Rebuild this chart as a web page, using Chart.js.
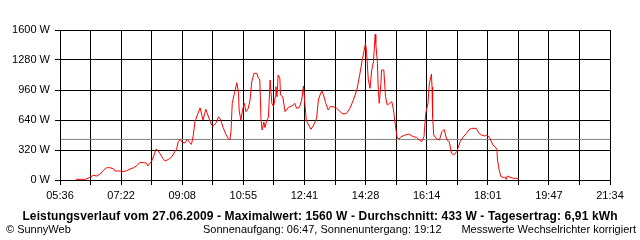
<!DOCTYPE html>
<html>
<head>
<meta charset="utf-8">
<script src="https://cdn.jsdelivr.net/npm/chart.js@4"></script>
<style>
  body { margin: 0; background: #fff; }
  #wrap { position: relative; width: 640px; height: 240px; font-family: "Liberation Sans", Arial, sans-serif; color: #000; }
  #chart { position: absolute; left: 0; top: 0; }
  .txt { position: absolute; white-space: nowrap; font-size: 11px; line-height: 12px; }
  #title { left: 0; width: 640px; text-align: center; top: 209px; font-weight: bold; font-size: 12px; line-height: 14px; letter-spacing: 0.12px; }
  #copy { left: 6px; top: 223px; }
  #sun { left: 203px; top: 223px; }
  #note { right: 4px; top: 223px; }
</style>
</head>
<body>
<div id="wrap">
  <canvas id="chart" width="640" height="240"></canvas>
  <div class="txt" id="title">Leistungsverlauf vom 27.06.2009 - Maximalwert: 1560 W - Durchschnitt: 433 W - Tagesertrag: 6,91 kWh</div>
  <div class="txt" id="copy">© SunnyWeb</div>
  <div class="txt" id="sun">Sonnenaufgang: 06:47, Sonnenuntergang: 19:12</div>
  <div class="txt" id="note">Messwerte Wechselrichter korrigiert</div>
</div>
<script>
// Leistung (W) ueber Uhrzeit
const times = [
  '06:04','06:13','06:20','06:28','06:34','06:40','06:46','06:51','06:57','07:03',
  '07:09','07:12','07:21','07:26','07:32','07:38','07:44','07:50','07:55','08:02',
  '08:07','08:09','08:16','08:20','08:23','08:26','08:30','08:35','08:39','08:45',
  '08:51','08:56','08:59','09:02','09:05','09:10','09:14','09:18','09:22','09:25',
  '09:28','09:31','09:35','09:40','09:45','09:50','09:56','10:00','10:03','10:08',
  '10:12','10:16','10:20','10:25','10:29','10:32','10:34','10:36','10:40','10:44',
  '10:47','10:48','10:51','10:54','10:57','11:00','11:04','11:07','11:10','11:14',
  '11:19','11:21','11:24','11:26','11:28','11:31','11:33','11:36','11:39','11:42',
  '11:45','11:48','11:51','11:52','11:54','11:56','11:59','12:00','12:04','12:08',
  '12:14','12:20','12:25','12:28','12:33','12:37','12:40','12:42','12:45','12:49',
  '12:53','12:57','13:03','13:06','13:09','13:12','13:15','13:19','13:23','13:27',
  '13:32','13:38','13:44','13:49','13:55','14:01','14:07','14:13','14:18','14:23',
  '14:27','14:28','14:30','14:33','14:36','14:39','14:42','14:45','14:46','14:49',
  '14:50','14:52','14:55','14:56','15:00','15:03','15:06','15:10','15:14','15:17',
  '15:20','15:23','15:26','15:30','15:37','15:44','15:51','15:57','16:02','16:06',
  '16:10','16:13','16:17','16:19','16:22','16:23','16:24','16:25','16:27','16:31',
  '16:37','16:41','16:45','16:50','16:54','16:58','17:02','17:07','17:13','17:18',
  '17:24','17:29','17:33','17:41','17:45','17:50','17:56','18:00','18:05','18:10',
  '18:14','18:17','18:18','18:21','18:24','18:28','18:31','18:33','18:35','18:40',
  '18:46','18:52','18:55'
];
const watts = [
  7, 7, 7, 28, 50, 43, 64, 100, 131, 131,
  121, 96, 96, 89, 100, 117, 131, 153, 188, 185,
  178, 149, 206, 267, 327, 320, 284, 231, 203, 220,
  249, 302, 327, 409, 434, 398, 398, 434, 398, 380,
  470, 620, 690, 770, 640, 754, 651, 587, 576, 612,
  675, 640, 562, 487, 441, 427, 533, 818, 931, 1038,
  924, 747, 640, 747, 818, 729, 765, 853, 1049, 1138,
  1138, 1095, 1067, 658, 533, 620, 560, 630, 670, 1067,
  818, 782, 889, 995, 889, 1120, 1085, 907, 889, 729,
  775, 789, 818, 765, 775, 853, 1003, 853, 640, 587,
  540, 576, 658, 853, 907, 953, 907, 818, 747, 782,
  782, 765, 729, 704, 711, 765, 853, 960, 1120, 1298,
  1422, 1458, 1369, 1067, 978, 1173, 1262, 1554, 1458, 1244,
  1013, 818, 1031, 1173, 1173, 889, 800, 818, 835, 747,
  587, 462, 434, 462, 480, 491, 462, 455, 427, 409,
  462, 711, 818, 1013, 1102, 1130, 990, 675, 480, 444,
  427, 515, 540, 427, 409, 284, 267, 302, 409, 455,
  498, 540, 551, 551, 505, 480, 469, 480, 444, 373,
  355, 327, 213, 107, 36, 28, 28, 7, 43, 28,
  18, 18, 0
];
const xTickLabels = ['05:36','07:22','09:08','10:55','12:41','14:28','16:14','18:01','19:47','21:34'];
const yTicks = [0, 320, 640, 960, 1280, 1600];
const average = 433;

function toMinutes(s) {
  const p = s.split(':');
  return parseInt(p[0], 10) * 60 + parseInt(p[1], 10);
}

const xMin = toMinutes(xTickLabels[0]);
const xMax = toMinutes(xTickLabels[xTickLabels.length - 1]);
const gridCount = (xTickLabels.length - 1) * 2;

let points = [];
for (let i = 0; i < times.length; i++) {
  points.push({ x: toMinutes(times[i]), y: watts[i] });
}

Chart.defaults.font.family = '"Liberation Sans", Arial, sans-serif';
Chart.defaults.font.size = 11;
Chart.defaults.color = '#000';

const ctx = document.getElementById('chart');
new Chart(ctx, {
  type: 'line',
  data: {
    datasets: [{
      data: points,
      borderColor: '#ff0000',
      borderWidth: 1,
      pointRadius: 0,
      tension: 0,
      order: 1
    }, {
      data: [{ x: xMin, y: average }, { x: xMax, y: average }],
      borderColor: '#808080',
      borderWidth: 1,
      pointRadius: 0,
      order: 2
    }]
  },
  options: {
    responsive: false,
    animation: false,
    layout: { padding: { top: 30, right: 30, left: 0, bottom: 0 } },
    plugins: { legend: { display: false }, tooltip: { enabled: false } },
    scales: {
      x: {
        type: 'linear',
        min: xMin,
        max: xMax,
        afterBuildTicks: (scale) => {
          let t = [];
          for (let i = 0; i <= gridCount; i++) {
            t.push({ value: xMin + (xMax - xMin) * i / gridCount });
          }
          scale.ticks = t;
        },
        afterFit: (scale) => { scale.height = 60; },
        ticks: {
          autoSkip: false,
          maxRotation: 0,
          padding: 4,
          callback: (value, index) => index % 2 === 0 ? xTickLabels[index / 2] : ''
        },
        grid: { color: '#000', lineWidth: 1, tickLength: 5 },
        border: { color: '#000' }
      },
      y: {
        min: 0,
        max: 1600,
        afterBuildTicks: (scale) => {
          scale.ticks = yTicks.map(v => ({ value: v }));
        },
        afterFit: (scale) => { scale.width = 60; },
        ticks: {
          padding: 5,
          callback: (value) => value + ' W'
        },
        grid: { color: '#000', lineWidth: 1, tickLength: 5 },
        border: { color: '#000' }
      }
    }
  },
  plugins: [{
    id: 'frame',
    afterDraw(chart) {
      const a = chart.chartArea;
      const c = chart.ctx;
      c.save();
      c.strokeStyle = '#000';
      c.lineWidth = 1;
      c.strokeRect(Math.round(a.left) + 0.5, Math.round(a.top) + 0.5, Math.round(a.right - a.left), Math.round(a.bottom - a.top));
      c.restore();
    }
  }]
});
</script>
</body>
</html>
